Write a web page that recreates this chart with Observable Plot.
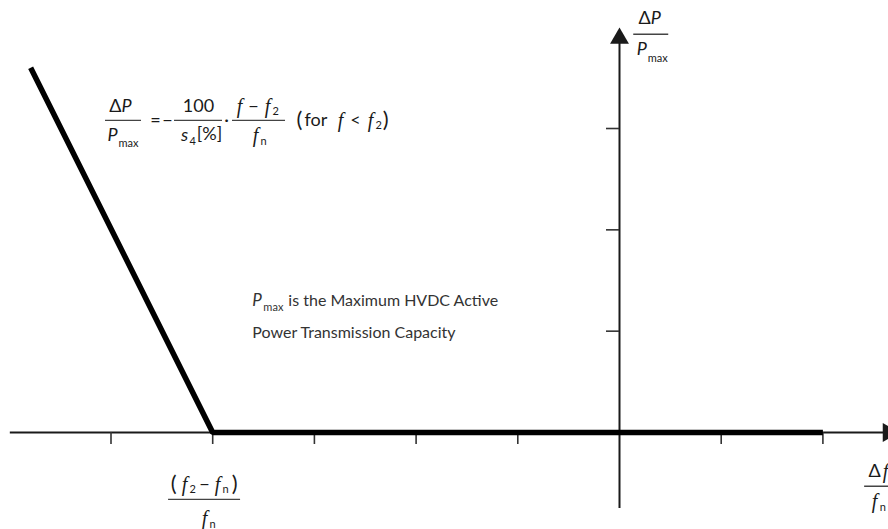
<!DOCTYPE html>
<html>
<head>
<meta charset="utf-8">
<script src="https://cdn.jsdelivr.net/npm/d3@7"></script>
<script src="https://cdn.jsdelivr.net/npm/@observablehq/plot@0.6"></script>
<style>
  html, body { margin: 0; padding: 0; background: #fff; overflow: hidden; }
  #chart svg { display: block; }
</style>
</head>
<body>
<div id="chart"></div>
<script>
// ---- data (in tick units: Δf/fn steps on x, ΔP/Pmax steps on y) ----
const freqDev  = [-5.79, -4, 2];      // Δf/fn breakpoints of the droop characteristic
const powerDev = [3.6, 0, 0];         // ΔP/Pmax at those breakpoints
const xTicks   = [-5, -4, -3, -2, -1, 1, 2];
const yTicks   = [1, 2, 3];
const noteLines = ["is the Maximum HVDC Active", "Power Transmission Capacity"];

// ---- scale geometry ----
const W = 888, H = 529;
const XU = 101.7, YU = 101.33;          // px per tick unit
const X0 = 619, Y0 = 432;               // origin in px
const xDomain = [(0 - X0) / XU, (W - X0) / XU];
const yDomain = [(Y0 - H) / YU, Y0 / YU];

const SANS = "Lato, 'Open Sans', sans-serif";
const SERIF = "'Liberation Serif', 'DejaVu Serif', serif";
const INK = "#1a1a1a";

function t(ax, ay, dx, dy, text, o = {}) {
  return Plot.text([text], {
    x: () => ax, y: () => ay, dx, dy, text: d => d,
    textAnchor: "middle", lineAnchor: "middle",
    fontSize: 18, fill: INK, fontFamily: SANS, ...o
  });
}
const it = {fontStyle: "italic"};
const fI = {fontStyle: "italic", fontFamily: SERIF, fontSize: 20};
const sub = {fontSize: 11};
function bar(ax, ay, dx1, dx2) {
  return Plot.ruleY([0], {
    y: () => ay, x1: () => ax + dx1 / XU, x2: () => ax + dx2 / XU,
    stroke: "#444", strokeWidth: 1.4
  });
}

// annotation anchors (data units)
const yLab = [0.14, 3.93];     // ΔP/Pmax label by the y axis
const eq = [-5.054, 3.08];     // droop formula (fraction bar line)
const note = [-3.61, 1.30];    // Pmax note
const tkLab = [-4.08, -0.66];  // (f2 - fn)/fn under the knee
const xLab = [2.43, -0.53];    // Δf/fn at right

const marks = [
  // axes
  Plot.ruleY([0], {x1: () => -5.99, x2: () => 2.6, stroke: INK, strokeWidth: 2}),
  Plot.ruleX([0], {y1: () => -0.75, y2: () => 3.85, stroke: INK, strokeWidth: 2}),
  Plot.dot([0], {x: () => 0, y: () => 3.89, symbol: "triangle", r: 7, fill: INK, stroke: null}),
  Plot.dot([0], {x: () => 2.642, y: () => 0, symbol: "triangle", r: 7, rotate: 90, fill: INK, stroke: null}),
  Plot.ruleX(xTicks, {x: d => d, y1: 0, y2: -12 / YU, stroke: "#333", strokeWidth: 1.6}),
  Plot.ruleY(yTicks, {y: d => d, x1: -13 / XU, x2: 0, stroke: "#333", strokeWidth: 1.6}),

  // droop characteristic
  Plot.line(freqDev.map((f, i) => ({f, p: powerDev[i]})), {
    x: "f", y: "p", stroke: "#000", strokeWidth: 5.5,
    strokeLinejoin: "miter", strokeLinecap: "butt"
  }),

  // y label ΔP / Pmax
  t(...yLab, 17, -16, "Δ", {textAnchor: "end"}),
  t(...yLab, 17, -16, "P", {...it, textAnchor: "start"}),
  bar(...yLab, 0, 35),
  t(...yLab, 8, 15, "P", it),
  t(...yLab, 14, 24, "max", {...sub, textAnchor: "start"}),

  // formula
  t(...eq, 16, -14, "Δ", {textAnchor: "end"}),
  t(...eq, 16, -14, "P", {...it, textAnchor: "start"}),
  bar(...eq, 0, 36),
  t(...eq, 7, 15, "P", it),
  t(...eq, 13, 23, "max", {...sub, textAnchor: "start"}),
  t(...eq, 50, 0, "="),
  t(...eq, 62, 0, "−"),
  t(...eq, 93, -14, "100"),
  bar(...eq, 69, 117),
  t(...eq, 79, 15, "s", it),
  t(...eq, 84, 21, "4", {...sub, textAnchor: "start"}),
  t(...eq, 104, 14, "[%]"),
  t(...eq, 121, 0, "·"),
  t(...eq, 134, -14, "f", fI),
  t(...eq, 148, -14, "−"),
  t(...eq, 162, -14, "f", fI),
  t(...eq, 167, -9, "2", {...sub, textAnchor: "start"}),
  bar(...eq, 127, 180),
  t(...eq, 150, 15, "f", fI),
  t(...eq, 155, 21, "n", {...sub, textAnchor: "start"}),
  t(...eq, 191, 0, "(", {fontSize: 22, textAnchor: "start"}),
  t(...eq, 199, 0, "for", {textAnchor: "start"}),
  t(...eq, 235, 0, "f", fI),
  t(...eq, 250, 0, "<"),
  t(...eq, 265, 0, "f", fI),
  t(...eq, 270, 5, "2", {...sub, textAnchor: "start"}),
  t(...eq, 283, 0, ")", {fontSize: 22, textAnchor: "end"}),

  // note
  t(...note, 0, 0, "P", {...it, fontSize: 17, textAnchor: "start", fill: "#333"}),
  t(...note, 11, 7, "max", {...sub, textAnchor: "start", fill: "#333"}),
  t(...note, 36, 0, noteLines[0], {fontSize: 16, textAnchor: "start", fill: "#333"}),
  t(...note, 0, 32, noteLines[1], {fontSize: 16, textAnchor: "start", fill: "#333"}),

  // (f2 - fn)/fn
  t(...tkLab, -31, -15, "(", {fontSize: 22}),
  t(...tkLab, -20, -15, "f", fI),
  t(...tkLab, -15, -10, "2", {...sub, textAnchor: "start"}),
  t(...tkLab, 0, -15, "−"),
  t(...tkLab, 13, -15, "f", fI),
  t(...tkLab, 18, -10, "n", {...sub, textAnchor: "start"}),
  t(...tkLab, 30, -15, ")", {fontSize: 22}),
  bar(...tkLab, -36, 36),
  t(...tkLab, 0, 19, "f", fI),
  t(...tkLab, 5, 25, "n", {...sub, textAnchor: "start"}),

  // Δf / fn
  t(...xLab, 14, -15, "Δ", {textAnchor: "end"}),
  t(...xLab, 19, -15, "f", fI),
  bar(...xLab, -2, 30),
  t(...xLab, 8, 15, "f", fI),
  t(...xLab, 13, 21, "n", {...sub, textAnchor: "start"})
];

const chart = Plot.plot({
  width: W, height: H,
  marginTop: 0, marginRight: 0, marginBottom: 0, marginLeft: 0,
  x: {domain: xDomain, axis: null},
  y: {domain: yDomain, axis: null},
  style: {background: "#fff", overflow: "hidden"},
  marks
});
document.getElementById("chart").append(chart);
</script>
</body>
</html>
